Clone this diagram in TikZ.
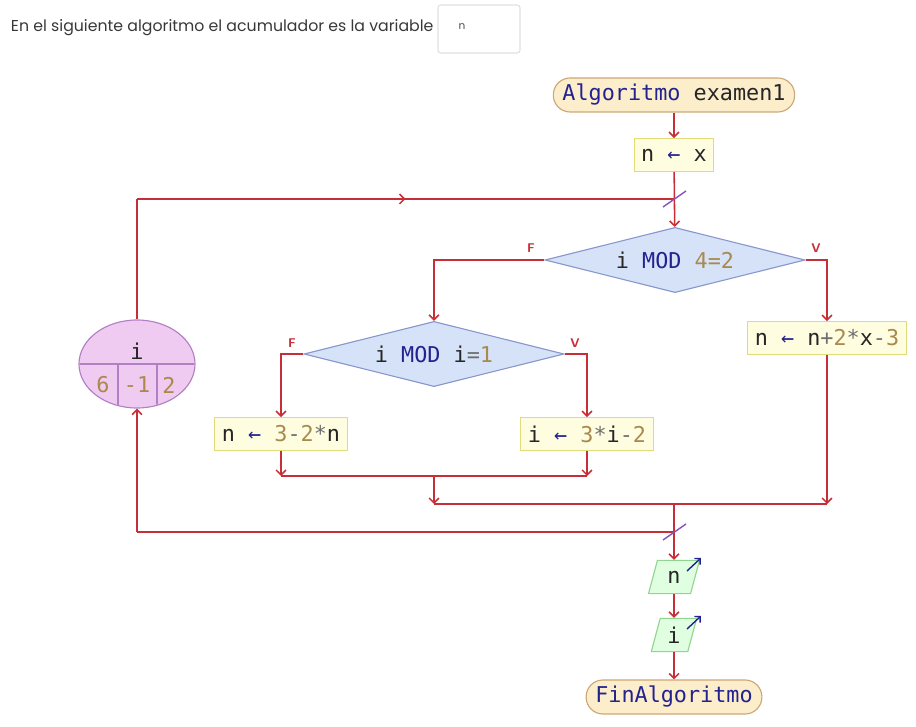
\documentclass[tikz,border=0pt]{standalone}
\usepackage{fontspec}
\setmainfont{Poppins}
\newfontfamily\codefont{DejaVu Sans Mono}
\usetikzlibrary{arrows.meta, shapes.geometric, decorations.markings, calc}
\definecolor{flowred}{HTML}{C62F37}
\definecolor{kwblue}{HTML}{23238F}
\definecolor{numgold}{HTML}{A88A4E}
\definecolor{opgray}{HTML}{6E6E6E}
\definecolor{inkdark}{HTML}{262626}
\definecolor{slashpurple}{HTML}{8A4FC0}
\definecolor{termfill}{HTML}{FCEDCB}
\definecolor{termdraw}{HTML}{CDA777}
\definecolor{condfill}{HTML}{D6E2F8}
\definecolor{conddraw}{HTML}{8A98CC}
\definecolor{cntfill}{HTML}{EFCBF2}
\definecolor{cntdraw}{HTML}{B27FC2}
\newcommand{\kw}[1]{\textcolor{kwblue}{#1}}
\newcommand{\nm}[1]{\textcolor{numgold}{#1}}
\newcommand{\op}[1]{\textcolor{opgray}{#1}}
\newcommand{\asg}{\textcolor{kwblue}{←}}

\begin{document}
\begin{tikzpicture}[
    x=0.025cm, y=-0.025cm,
    code/.style={font=\codefont\fontsize{15.5}{18}\selectfont, text=inkdark},
    term/.style={code, rectangle, rounded corners=0.42cm, draw=termdraw,
                 fill=termfill, inner xsep=6.5pt, minimum height=0.85cm, thick},
    assign/.style={code, rectangle, draw=yellow!40!olive!45, fill=yellow!12,
                   inner xsep=5pt, minimum height=0.82cm, thick},
    cond/.style={code, diamond, aspect=4, inner sep=0pt, draw=conddraw,
                 fill=condfill, minimum width=6.5cm, minimum height=1.63cm, thick},
    outbox/.style={code, trapezium, trapezium left angle=75, trapezium right angle=105,
                   draw=green!45!gray!60, fill=green!12, minimum height=0.83cm,
                   inner xsep=3pt, thick},
    line/.style={draw=flowred, line width=1.1pt},
    flow/.style={line, -{Straight Barb[length=3.5pt, width=7pt]}},
    brlbl/.style={font=\sffamily\bfseries\fontsize{9}{10}\selectfont, text=flowred},
    slash/.style={draw=slashpurple, line width=1pt},
    outarr/.style={draw=kwblue, line width=1pt, -{Straight Barb[length=3pt, width=6pt]}}
]
  \useasboundingbox (0,0) rectangle (916,727);

  % question line
  \node[anchor=west, font=\fontsize{11.2}{13}\selectfont, text=black!78] (question) at (6,28)
       {En el siguiente algoritmo el acumulador es la variable};
  \node[draw=black!12, rounded corners=2pt, minimum width=2.05cm, minimum height=1.2cm,
        thick] (answer) at (479,29) {};
  \node[font=\fontsize{7.5}{9}\selectfont, text=black!70] (answertxt) at (462,27) {n};

  % main flow
  \node[term]   (start) at (674,95)  {\kw{Algoritmo} examen1};
  \node[assign] (nx)    at (674,155) {n \asg{} x};
  \node[cond]   (d1)    at (675,260) {i \kw{MOD} \nm{4=2}};
  \node[cond]   (d2)    at (434,354) {i \kw{MOD} i\op{=}\nm{1}};
  \node[assign] (b3)    at (827,338) {n \asg{} n\op{+}\nm{2}\op{*}x\op{-}\nm{3}};
  \node[assign] (b1)    at (281,434) {n \asg{} \nm{3}\op{-}\nm{2}\op{*}n};
  \node[assign] (b2)    at (587,434) {i \asg{} \nm{3}\op{*}i\op{-}\nm{2}};
  \node[outbox] (outn)  at (674,577) {n};
  \node[outbox] (outi)  at (674,635) {i};
  \node[term]   (stop)  at (674,697) {\kw{FinAlgoritmo}};

  % loop counter
  \node[ellipse, draw=cntdraw, fill=cntfill, thick,
        minimum width=2.9cm, minimum height=2.2cm] (ell) at (137,364) {};
  \begin{scope}
    \clip (ell.center) ellipse [x radius=1.43cm, y radius=1.08cm];
    \draw[cntdraw, thick] (60,364) -- (215,364);
    \draw[cntdraw, thick] (118,364) -- (118,420);
    \draw[cntdraw, thick] (157,364) -- (157,420);
  \end{scope}
  \node[code] (ellvar) at (137,351) {i};
  \node[code, text=numgold!80!brown] (ellv1) at (103,385) {6};
  \node[code, text=numgold!80!brown] (ellv2) at (137,385) {-1};
  \node[code, text=numgold!80!brown] (ellv3) at (169,385) {2};

  \coordinate (jtop) at (674,199);
  \coordinate (ltop) at (137,199);
  \coordinate (m1)   at (434,476);
  \coordinate (m2)   at (434,504);
  \coordinate (m3)   at (674,504);
  \coordinate (jbot) at (674,532);

  \draw[flow] (start) -- (nx);
  \draw[flow] (nx) -- (d1);
  \draw[line] (ell.north) -- (ltop);
  \draw[line, postaction={decorate}, decoration={markings,
        mark=at position 0.5 with {\arrow{Straight Barb[length=3.5pt, width=7pt]}}}]
        (ltop) -- (jtop);

  \draw[flow] (d1.west) -| (d2.north);
  \draw[flow] (d1.east) -| (b3.north);
  \draw[flow] (d2.west) -| (b1.north);
  \draw[flow] (d2.east) -| (b2.north);
  \node[brlbl] (f1) at (531,248) {F};
  \node[brlbl] (v1) at (816,248) {V};
  \node[brlbl] (f2) at (292,343) {F};
  \node[brlbl] (v2) at (575,343) {V};

  \draw[flow] (b1) -- (b1 |- m1);
  \draw[flow] (b2) -- (b2 |- m1);
  \draw[line] (b1 |- m1) -- (b2 |- m1);
  \draw[flow] (m1) -- (m2);
  \draw[flow] (b3) -- (b3 |- m2);
  \draw[line] (m2) -- (b3 |- m2);

  \draw[flow] (m3) -- (outn);
  \draw[line] (jbot) -- (ltop |- jbot);
  \draw[flow] (ltop |- jbot) -- (ell.south);
  \draw[flow] (outn) -- (outi);
  \draw[flow] (outi) -- (stop);

  \draw[slash] ($(jtop)+(-11,8)$) -- ($(jtop)+(12,-8)$);
  \draw[slash] ($(jbot)+(-11,8)$) -- ($(jbot)+(12,-8)$);
  \draw[outarr] ($(outn)+(13,-6)$) -- ($(outn)+(27,-19)$);
  \draw[outarr] ($(outi)+(13,-6)$) -- ($(outi)+(27,-19)$);
\end{tikzpicture}
\end{document}
